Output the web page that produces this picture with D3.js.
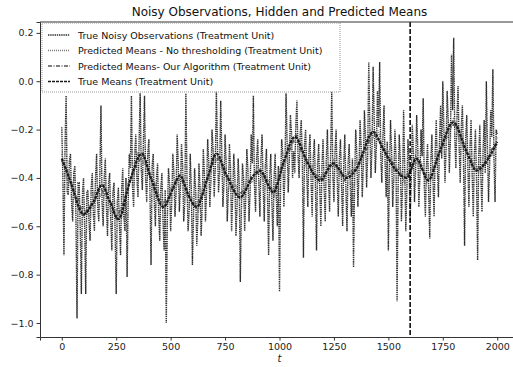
<!DOCTYPE html>
<html>
<head>
<meta charset="utf-8">
<script src="https://cdn.jsdelivr.net/npm/d3@7"></script>
<style>
  body { margin: 0; background: #fff; }
  svg { font-family: "DejaVu Sans", sans-serif; }
</style>
</head>
<body>
<svg id="chart" width="513" height="367"></svg>
<script>
// noisy observations, read every 5 steps
const obsT = d3.range(0, 2001, 5);
const obsV = [
  -0.19, -0.40, -0.72, -0.26, -0.06, -0.46, -0.47, -0.33, -0.30, -0.50, -0.58, -0.38, -0.35, -0.56, -0.98, -0.42, -0.42, -0.62, -0.88, -0.46,
  -0.40, -0.60, -0.88, -0.46, -0.45, -0.58, -0.66, -0.44, -0.38, -0.55, -0.62, -0.40, -0.30, -0.52, -0.58, -0.38, -0.10, -0.50, -0.60, -0.40,
  -0.32, -0.52, -0.64, -0.42, -0.38, -0.58, -0.70, -0.46, -0.42, -0.62, -0.88, -0.50, -0.44, -0.60, -0.72, -0.45, -0.36, -0.56, -0.62, -0.40,
  -0.81, -0.50, -0.30, -0.36, -0.06, -0.44, -0.52, -0.30, -0.22, -0.40, -0.48, -0.26, -0.05, -0.36, -0.45, -0.25, -0.06, -0.40, -0.50, -0.30,
  -0.24, -0.45, -0.76, -0.35, -0.30, -0.50, -0.60, -0.40, -0.34, -0.55, -0.66, -0.44, -0.38, -0.58, -0.70, -0.45, -1.00, -0.56, -0.36, -0.42,
  -0.62, -0.50, -0.30, -0.38, -0.56, -0.46, -0.22, -0.34, -0.54, -0.44, -0.26, -0.35, -0.58, -0.50, -0.05, -0.40, -0.62, -0.54, -0.30, -0.44,
  -0.76, -0.56, -0.36, -0.45, -0.68, -0.57, -0.34, -0.44, -0.64, -0.52, -0.28, -0.38, -0.58, -0.46, -0.24, -0.33, -0.52, -0.41, -0.20, -0.28,
  -0.48, -0.36, -0.04, -0.26, -0.46, -0.38, -0.08, -0.30, -0.52, -0.42, -0.22, -0.34, -0.58, -0.46, -0.26, -0.36, -0.62, -0.48, -0.30, -0.40,
  -0.64, -0.52, -0.32, -0.42, -0.83, -0.53, -0.34, -0.40, -0.62, -0.48, -0.28, -0.37, -0.58, -0.46, -0.22, -0.34, -0.06, -0.43, -0.54, -0.32,
  -0.24, -0.42, -0.56, -0.32, -0.22, -0.44, -0.58, -0.35, -0.28, -0.47, -0.72, -0.39, -0.30, -0.50, -0.66, -0.40, -0.30, -0.47, -0.60, -0.35,
  -0.87, -0.42, -0.24, -0.30, -0.52, -0.38, -0.05, -0.25, -0.46, -0.33, -0.14, -0.21, -0.40, -0.29, -0.38, -0.18, -0.08, -0.30, -0.40, -0.22,
  -0.16, -0.34, -0.73, -0.26, -0.20, -0.38, -0.52, -0.30, -0.22, -0.41, -0.56, -0.32, -0.24, -0.43, -0.70, -0.34, -0.26, -0.45, -0.60, -0.35,
  -0.24, -0.44, -0.58, -0.32, -0.20, -0.41, -0.54, -0.29, -0.04, -0.39, -0.50, -0.29, -0.20, -0.40, -0.56, -0.32, -0.24, -0.43, -0.60, -0.34,
  -0.22, -0.45, -0.62, -0.34, -0.26, -0.43, -0.56, -0.32, -0.77, -0.41, -0.20, -0.30, -0.52, -0.38, -0.16, -0.27, -0.48, -0.35, -0.12, -0.23,
  -0.44, -0.31,  0.08, -0.19, -0.40, -0.27,  0.06, -0.16, -0.38, -0.27, -0.04, -0.19,  0.08, -0.31, -0.42, -0.23, -0.10, -0.34, -0.48, -0.25,
  -0.70, -0.37, -0.16, -0.29, -0.52, -0.40, -0.20, -0.31, -0.91, -0.42, -0.22, -0.33, -0.58, -0.44, -0.12, -0.35, -0.62, -0.45, -0.24, -0.33,
  -0.58, -0.41, -0.18, -0.29, -0.50, -0.37, -0.14, -0.27, -0.52, -0.39, -0.20, -0.31, -0.07, -0.43, -0.56, -0.35, -0.26, -0.45, -0.65, -0.33,
  -0.22, -0.41, -0.56, -0.29, -0.16, -0.36, -0.48, -0.24, -0.10, -0.32,  0.00, -0.20, -0.42, -0.28, -0.04, -0.16, -0.38, -0.24,  0.11, -0.12,
   0.18, -0.23, -0.36, -0.15, -0.02, -0.27, -0.42, -0.19, -0.10, -0.32, -0.68, -0.24, -0.14, -0.35, -0.52, -0.27, -0.16, -0.39, -0.56, -0.30,
  -0.20, -0.41, -0.74, -0.31, -0.18, -0.40, -0.54, -0.29, -0.16, -0.38,  0.00, -0.27, -0.50, -0.35, -0.12, -0.23,  0.05, -0.32, -0.50, -0.20,
  -0.22
];

// hidden (true) means, read at the turning points
const meanT = [0, 38, 100, 145, 184, 222, 260, 314, 367, 413, 467, 512, 543, 581, 620, 666, 711, 757, 819, 880,
  910, 972, 1017, 1071, 1125, 1186, 1247, 1308, 1354, 1431, 1476, 1537, 1584, 1629, 1683, 1736, 1798, 1859, 1905, 1951, 2000];
const meanV = [-0.32, -0.41, -0.55, -0.50, -0.43, -0.50, -0.57, -0.41, -0.30, -0.41, -0.52, -0.44, -0.39, -0.47, -0.52, -0.41, -0.30, -0.39, -0.48, -0.39,
  -0.37, -0.46, -0.34, -0.23, -0.33, -0.41, -0.34, -0.40, -0.36, -0.21, -0.28, -0.37, -0.40, -0.32, -0.41, -0.29, -0.17, -0.29, -0.37, -0.33, -0.25];

// predicted means (every 25 steps)
const predT = d3.range(0, 2001, 25);
const predNoThresh = [
  -0.30, -0.41, -0.42, -0.53, -0.52, -0.56, -0.46, -0.48, -0.43, -0.54, -0.53, -0.56, -0.42, -0.41, -0.30, -0.34,
  -0.36, -0.46, -0.47, -0.53, -0.44, -0.44, -0.37, -0.48, -0.48, -0.54, -0.42, -0.41, -0.30, -0.36,
  -0.36, -0.45, -0.43, -0.49, -0.41, -0.42, -0.35, -0.41, -0.41, -0.48, -0.36, -0.35, -0.25, -0.25,
  -0.26, -0.36, -0.35, -0.42, -0.38, -0.38, -0.32, -0.39, -0.38, -0.40, -0.34, -0.34, -0.25, -0.24,
  -0.20, -0.27, -0.29, -0.37, -0.36, -0.42, -0.35, -0.34, -0.33, -0.42, -0.36, -0.34, -0.24, -0.23,
  -0.15, -0.24, -0.26, -0.34, -0.34, -0.38, -0.31, -0.31, -0.23
];
const predOurs = [
  -0.33, -0.37, -0.45, -0.49, -0.56, -0.52, -0.50, -0.44, -0.47, -0.50, -0.57, -0.52, -0.46, -0.38, -0.34, -0.30,
  -0.39, -0.42, -0.50, -0.50, -0.47, -0.41, -0.41, -0.45, -0.51, -0.50, -0.46, -0.38, -0.33, -0.32,
  -0.39, -0.41, -0.47, -0.46, -0.44, -0.40, -0.38, -0.38, -0.44, -0.45, -0.40, -0.32, -0.28, -0.22,
  -0.29, -0.32, -0.38, -0.39, -0.41, -0.35, -0.35, -0.36, -0.41, -0.37, -0.37, -0.31, -0.28, -0.21,
  -0.24, -0.27, -0.32, -0.34, -0.39, -0.39, -0.38, -0.31, -0.36, -0.39, -0.39, -0.31, -0.27, -0.20,
  -0.18, -0.21, -0.29, -0.31, -0.37, -0.35, -0.34, -0.28, -0.26
];

const changePoint = 1600;
const xTicks = [0, 250, 500, 750, 1000, 1250, 1500, 1750, 2000];
const yTicks = [0.2, 0.0, -0.2, -0.4, -0.6, -0.8, -1.0];
const legendLabels = [
  "True Noisy Observations (Treatment Unit)",
  "Predicted Means - No thresholding (Treatment Unit)",
  "Predicted Means- Our Algorithm (Treatment Unit)",
  "True Means (Treatment Unit)"
];

const svg = d3.select("#chart");
const axLeft = 40, axRight = 519, axTop = 22, axBottom = 337;

const x = d3.scaleLinear().domain([-100, 2100]).range([axLeft, axRight]);
const y = d3.scaleLinear().domain([-1.058, 0.245]).range([axBottom, axTop]);

svg.append("defs").append("clipPath").attr("id", "clip")
  .append("rect").attr("x", axLeft).attr("y", axTop).attr("width", axRight - axLeft).attr("height", axBottom - axTop);

const plot = svg.append("g").attr("clip-path", "url(#clip)");

const line = d3.line().x(d => x(d[0])).y(d => y(d[1]));

const styles = [
  { stroke: "#2e2e2e", dash: "1.4,0.8", w: 1.4 },     // noisy observations
  { stroke: "#7a7a7a", dash: "1,1", w: 1.6 },         // no thresholding
  { stroke: "#555", dash: "4,1.5,1,1.5", w: 1.5 },    // our algorithm
  { stroke: "#1a1a1a", dash: "3,1", w: 2.2 }          // true means
];

function styled(sel, s) {
  return sel.attr("fill", "none")
    .attr("stroke", s.stroke)
    .attr("stroke-width", s.w)
    .attr("stroke-dasharray", s.dash);
}

// noisy observations
styled(plot.append("path")
  .datum(obsT.map((t, i) => [t, obsV[i]]))
  .attr("d", line), styles[0]);

// predicted means, no thresholding
styled(plot.append("path")
  .datum(predT.map((t, i) => [t, predNoThresh[i]]))
  .attr("d", line), styles[1]);

// predicted means, our algorithm
styled(plot.append("path")
  .datum(predT.map((t, i) => [t, predOurs[i]]))
  .attr("d", line), styles[2]);

// true means
styled(plot.append("path")
  .datum(meanT.map((t, i) => [t, meanV[i]]))
  .attr("d", d3.line().x(d => x(d[0])).y(d => y(d[1])).curve(d3.curveMonotoneX)), styles[3]);

// change point
plot.append("line")
  .attr("x1", x(changePoint)).attr("x2", x(changePoint))
  .attr("y1", axTop).attr("y2", axBottom)
  .attr("stroke", "#000")
  .attr("stroke-width", 1.5)
  .attr("stroke-dasharray", "5,2");

// axes
const xAxis = svg.append("g")
  .attr("transform", "translate(0," + axBottom + ")")
  .call(d3.axisBottom(x).tickValues(xTicks).tickSize(3.5).tickPadding(3).tickFormat(d3.format("d")));
const yAxis = svg.append("g")
  .attr("transform", "translate(" + axLeft + ",0)")
  .call(d3.axisLeft(y).tickValues(yTicks).tickSize(3.5).tickPadding(3).tickFormat(d => d3.format(".1f")(d).replace("-", "\u2212")));

[xAxis, yAxis].forEach(a => {
  a.selectAll("text").attr("font-size", 9.5).attr("fill", "#222").attr("font-family", "DejaVu Sans");
  a.selectAll("line").attr("stroke", "#333");
  a.select(".domain").attr("stroke", "#333").attr("stroke-width", 1);
});

// top spine
svg.append("line")
  .attr("x1", axLeft).attr("x2", axRight)
  .attr("y1", axTop).attr("y2", axTop)
  .attr("stroke", "#333");

// title and x label
svg.append("text")
  .attr("x", (axLeft + axRight) / 2).attr("y", 16)
  .attr("text-anchor", "middle")
  .attr("font-size", 12)
  .attr("fill", "#111")
  .text("Noisy Observations, Hidden and Predicted Means");

svg.append("text")
  .attr("x", (axLeft + axRight) / 2).attr("y", 362)
  .attr("text-anchor", "middle")
  .attr("font-size", 10)
  .attr("font-style", "italic")
  .attr("fill", "#222")
  .text("t");

// legend
const legend = svg.append("g");
legend.append("rect")
  .attr("x", 42).attr("y", 23).attr("width", 298).attr("height", 69)
  .attr("fill", "#fff").attr("fill-opacity", 0.8)
  .attr("stroke", "#999").attr("stroke-dasharray", "1,1");

legendLabels.forEach((label, i) => {
  const ly = 35 + i * 15.5;
  styled(legend.append("line")
    .attr("x1", 48).attr("x2", 70)
    .attr("y1", ly).attr("y2", ly), styles[i])
    .attr("stroke-width", Math.min(styles[i].w, 1.5));
  legend.append("text")
    .attr("x", 78).attr("y", ly + 3.5)
    .attr("font-size", 9.5)
    .attr("fill", "#111")
    .text(label);
});
</script>
</body>
</html>
